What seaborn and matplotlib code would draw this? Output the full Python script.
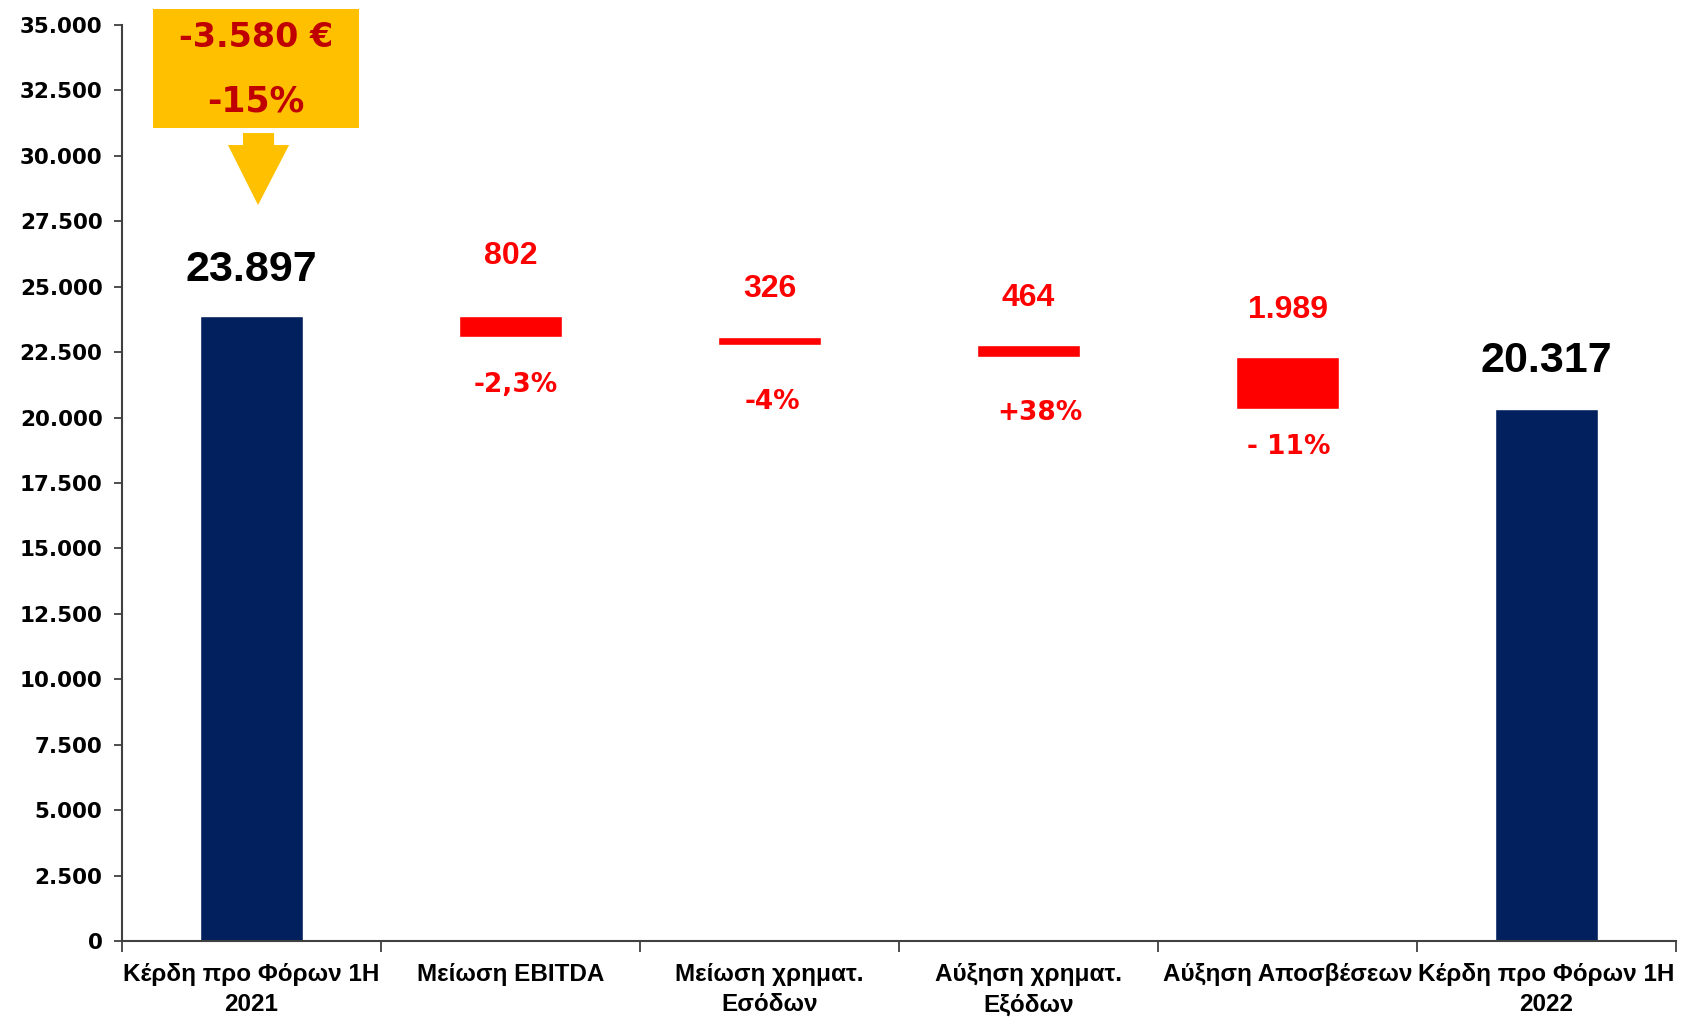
import numpy as np
import matplotlib
matplotlib.use("Agg")
import matplotlib.pyplot as plt
from matplotlib.patches import Rectangle, Polygon
from matplotlib.ticker import FuncFormatter, FixedLocator
import seaborn as sns

# data
categories = ["Κέρδη προ Φόρων 1H\n2021", "Μείωση EBITDA", "Μείωση χρηματ.\nΕσόδων",
              "Αύξηση χρηματ.\nΕξόδων", "Αύξηση Αποσβέσεων", "Κέρδη προ Φόρων 1H\n2022"]
start_total = 23897
changes = [-802, -326, -464, -1989]
end_total = 20317
value_labels = ["23.897", "802", "326", "464", "1.989", "20.317"]
pct_labels = ["-2,3%", "-4%", "+38%", "- 11%"]
headline = ["-3.580 €", "-15%"]

# waterfall geometry
levels = start_total + np.cumsum(changes)
tops = np.r_[start_total, start_total, levels[:-1]]
bottoms = np.r_[levels]
totals = [start_total, 0, 0, 0, 0, end_total]
deltas = [0] + [abs(c) for c in changes] + [0]
delta_base = [0] + list(bottoms) + [0]

navy = "#03205E"
red = "#FF0000"
yellow = "#FFC000"
darkred = "#C00000"
axis_grey = "#404040"
arial = ["Liberation Sans", "DejaVu Sans"]

sns.set_style("white")
plt.rcParams["font.family"] = ["DejaVu Sans"]

fig = plt.figure(figsize=(16.88, 10.18), dpi=100)
ax = fig.add_axes([0.0723, 0.0756, 0.9206, 0.8998])

sns.barplot(x=categories, y=totals, color=navy, width=0.4, errorbar=None,
            saturation=1, ax=ax, order=categories)
sns.barplot(x=categories, y=deltas, bottom=delta_base, color=red, width=0.4,
            errorbar=None, saturation=1, ax=ax, order=categories)

ax.set_xlim(-0.5, 5.5)
ax.set_ylim(0, 35000)
ax.set_yticks(np.arange(0, 35001, 2500))
ax.yaxis.set_major_formatter(FuncFormatter(lambda v, p: f"{v:,.0f}".replace(",", ".")))
for lab in ax.get_yticklabels():
    lab.set_fontweight("bold")
    lab.set_fontsize(15.5)
    lab.set_color("black")

ax.set_xticks(range(6))
ax.set_xticklabels(categories, family=arial, fontweight="bold", fontsize=17.5,
                   linespacing=1.4, color="black")
ax.xaxis.set_minor_locator(FixedLocator(np.arange(-0.5, 6, 1)))
ax.tick_params(axis="x", which="major", length=0, pad=16)
ax.tick_params(axis="x", which="minor", length=8, width=1.3, color=axis_grey,
               direction="out", bottom=True)
ax.tick_params(axis="y", length=6, width=1.3, color=axis_grey, left=True, pad=8)
for s in ["top", "right"]:
    ax.spines[s].set_visible(False)
for s in ["left", "bottom"]:
    ax.spines[s].set_color(axis_grey)
    ax.spines[s].set_linewidth(1.5)
ax.set_xlabel("")
ax.set_ylabel("")

# value labels above bars
above_off = [33, 43, 34.5, 34, 34, 35]
for i in range(6):
    top = totals[i] if i in (0, 5) else tops[i]
    big = i in (0, 5)
    ax.annotate(value_labels[i], (i, top), xytext=(0, above_off[i]),
                textcoords="offset points", ha="center", va="center",
                family=arial, fontweight="bold",
                fontsize=31 if big else 23, color="black" if big else red)

# percent labels below delta bars
below_off = [(4, -34.5), (2, -41), (8, -40), (1, -27)]
for j, lab in enumerate(pct_labels):
    dx, dy = below_off[j]
    ax.annotate(lab, (j + 1, bottoms[j]), xytext=(dx, dy), textcoords="offset points",
                ha="center", va="center", fontweight="bold", fontsize=19, color=red)

# headline box with arrow
ax.add_patch(Rectangle((-0.38, 31052), 0.794, 4575, facecolor=yellow,
                       edgecolor="none", clip_on=False, zorder=3))
ax.text(0.017, 34507, headline[0], ha="center", va="center", fontsize=24,
        fontweight="bold", color=darkred, zorder=4)
ax.text(0.017, 32080, headline[1], ha="center", va="center", fontsize=25,
        fontweight="bold", color=darkred, zorder=4)
arrow = [(-0.033, 30873), (0.087, 30873), (0.087, 30415), (0.145, 30415),
         (0.025, 28122), (-0.091, 30415), (-0.033, 30415)]
ax.add_patch(Polygon(arrow, closed=True, facecolor=yellow, edgecolor="none",
                     clip_on=False, zorder=3))

fig.savefig("out.png", dpi=100)
